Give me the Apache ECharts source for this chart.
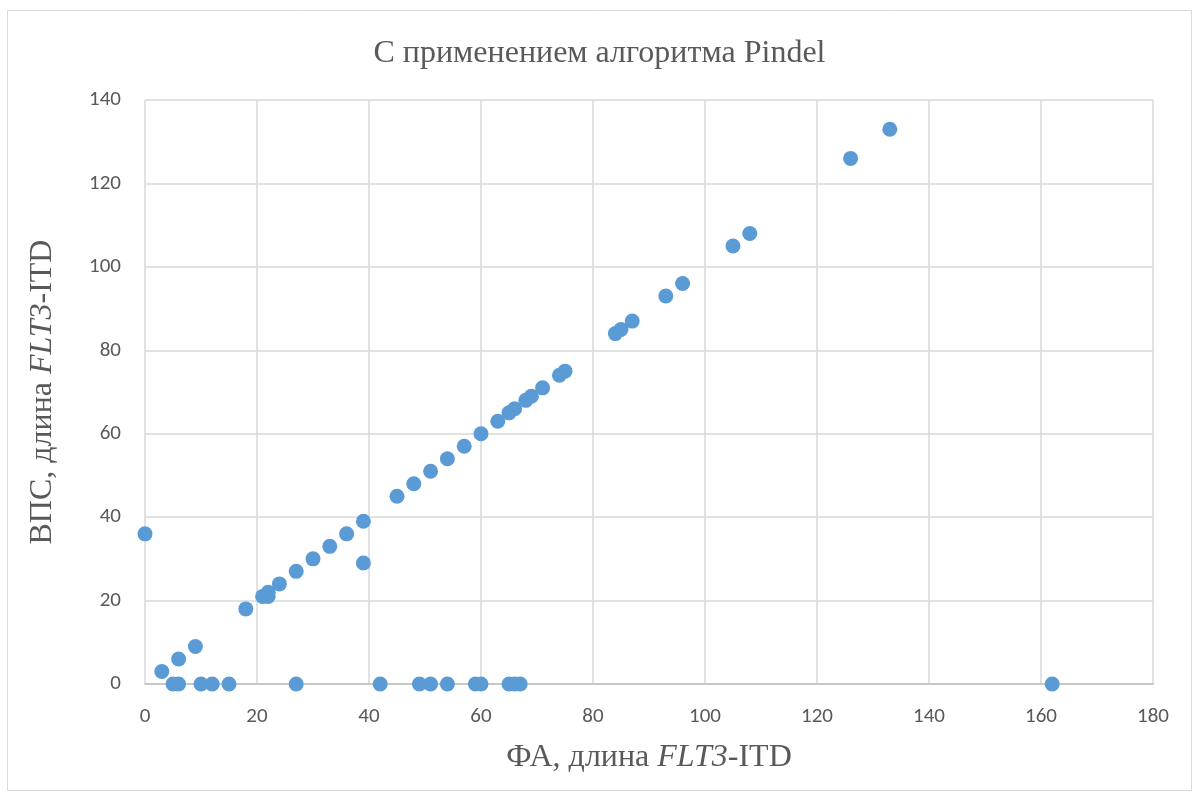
<!DOCTYPE html>
<html><head><meta charset="utf-8">
<script src="https://cdn.jsdelivr.net/npm/echarts@6/dist/echarts.min.js"></script>
<style>html,body{margin:0;padding:0;background:#fff}#c{width:1199px;height:799px}</style>
</head><body><div id="c"></div>
<script>
const xValues = [0,3,5,6,6,9,10,12,15,18,21,22,22,24,27,27,30,33,36,39,39,42,45,48,49,51,51,54,54,57,59,60,60,63,65,65,66,66,67,68,69,71,74,75,84,85,87,93,96,105,108,126,133,162];
const yValues = [36,3,0,0,6,9,0,0,0,18,21,22,21,24,27,0,30,33,36,39,29,0,45,48,0,51,0,54,0,57,0,60,0,63,65,0,66,0,0,68,69,71,74,75,84,85,87,93,96,105,108,126,133,0];
const titleText = 'С применением алгоритма Pindel';
const points = xValues.map((x,i)=>[x,yValues[i]]);
const chart = echarts.init(document.getElementById('c'));
const serif = '"Liberation Serif","Times New Roman",serif';
const sans = '"Carlito","Liberation Sans","Open Sans",sans-serif';
const nameRich = {
  n:{fontFamily:serif,fontSize:32,color:'#595959'},
  i:{fontFamily:serif,fontSize:32,color:'#595959',fontStyle:'italic'}
};
chart.setOption({
  animation:false,
  backgroundColor:'#fff',
  graphic:[{type:'rect',shape:{x:7.5,y:10.5,width:1184,height:780},style:{fill:'none',stroke:'#D9D9D9',lineWidth:1},silent:true}],
  title:{text:titleText,left:'center',top:33,textStyle:{fontFamily:serif,fontSize:32,fontWeight:'normal',color:'#595959'}},
  grid:{left:145,right:46,top:100,bottom:115},
  xAxis:{type:'value',min:0,max:180,interval:20,
    name:'{n|ФА, длина }{i|FLT3}{n|-ITD}',nameLocation:'middle',nameGap:58,nameTextStyle:{rich:nameRich},
    axisLine:{show:true,lineStyle:{color:'#BFBFBF',width:1.5}},axisTick:{show:false},
    axisLabel:{fontFamily:sans,fontSize:21,color:'#595959',margin:22},
    splitLine:{show:true,lineStyle:{color:'#D9D9D9',width:1.5}}},
  yAxis:{type:'value',min:0,max:140,interval:20,
    name:'{n|ВПС, длина }{i|FLT3}{n|-ITD}',nameLocation:'middle',nameGap:86,nameTextStyle:{rich:nameRich},
    axisLine:{show:false},axisTick:{show:false},
    axisLabel:{fontFamily:sans,fontSize:21,color:'#595959',margin:24},
    splitLine:{show:true,lineStyle:{color:'#D9D9D9',width:1.5}}},
  series:[{type:'scatter',data:points,symbolSize:15,itemStyle:{color:'#5B9BD5',opacity:1}}]
});
</script></body></html>
